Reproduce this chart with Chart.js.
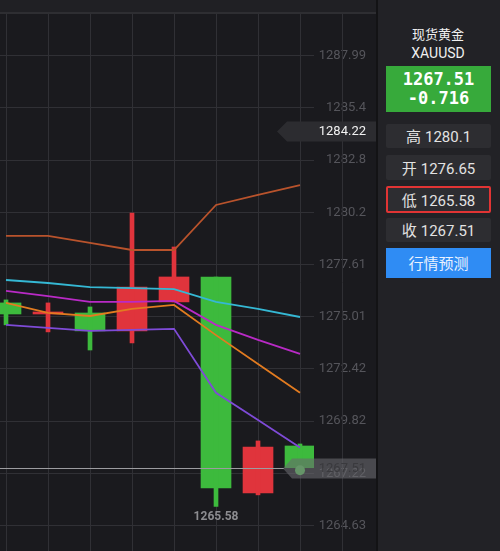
<!DOCTYPE html>
<html>
<head>
<meta charset="utf-8">
<script src="https://cdn.jsdelivr.net/npm/chart.js@4.4.1/dist/chart.umd.min.js"></script>
<style>
html, body { margin: 0; padding: 0; width: 500px; height: 551px; overflow: hidden; background: #1a1a1e; font-family: Roboto, "Noto Sans CJK SC", sans-serif; }
#top { position: absolute; left: 0; top: 0; width: 500px; height: 12px; background: #202024; border-bottom: 2px solid #2e2e32; }
#wrap { position: absolute; left: 0; top: 14px; width: 376px; height: 537px; }
#side { position: absolute; left: 376px; top: 0; width: 124px; height: 551px; background: #222226; border-left: 2px solid #131315; box-sizing: border-box; }
.t { position: absolute; left: 376px; width: 124px; text-align: center; color: #f0f0f0; }
.box { position: absolute; left: 386px; width: 105px; box-sizing: border-box; text-align: center; }
.price { background: #37aa3b; color: #fff; font: bold 17px "DejaVu Sans Mono", monospace; line-height: 19px; padding-top: 4px; }
.btn { background: #2d2d31; color: #e2e2e2; font-size: 15px; border-radius: 2px; }
.btn span { font-family: "Noto Sans CJK SC", sans-serif; margin-right: 4px; }
.low { border: 2px solid #e13434; }
.blue { background: #2f8cf4; color: #eaf2ff; font: 15px "Noto Sans CJK SC", sans-serif; }
</style>
</head>
<body>
<div id="top"></div>
<div id="side"></div>
<div class="t" style="top:25px;font:13px 'Noto Sans CJK SC',sans-serif;line-height:18px">现货黄金</div>
<div class="t" style="top:44px;font-size:14px;line-height:18px">XAUUSD</div>
<div class="box price" style="top:66px;height:46px">1267.51<br>-0.716</div>
<div class="box btn" style="top:124px;height:24px;line-height:24px"><span>高</span>1280.1</div>
<div class="box btn" style="top:155px;height:25px;line-height:25px"><span>开</span>1276.65</div>
<div class="box btn low" style="top:186px;height:27px;line-height:23px"><span>低</span>1265.58</div>
<div class="box btn" style="top:218px;height:24px;line-height:24px"><span>收</span>1267.51</div>
<div class="box blue" style="top:248px;height:30px;line-height:30px">行情预测</div>
<div id="wrap"><canvas id="chart"></canvas></div>
<script>
// candles, left to right
const candleIdx = [0, 1, 2, 3, 4, 5, 6, 7];
const opens  = [1275.70, 1275.15, 1275.20, 1274.31, 1275.75, 1276.99, 1266.26, 1268.59];
const closes = [1275.15, 1275.25, 1274.31, 1276.49, 1276.99, 1266.50, 1268.54, 1267.51];
const highs  = [1275.85, 1275.70, 1275.50, 1280.17, 1278.48, 1276.99, 1268.84, 1268.69];
const lows   = [1274.61, 1274.26, 1273.36, 1273.71, 1275.75, 1265.58, 1266.16, 1267.22];

// moving averages
const maBrown   = [1279.03, 1279.03, 1278.68, 1278.33, 1278.33, 1280.57, 1281.07, 1281.56];
const maCyan    = [1276.84, 1276.69, 1276.49, 1276.44, 1276.39, 1275.75, 1275.40, 1275.00];
const maMagenta = [1276.30, 1276.04, 1275.75, 1275.75, 1275.80, 1274.61, 1273.86, 1273.17];
const maOrange  = [1275.70, 1275.20, 1275.05, 1275.40, 1275.60, 1274.10, 1272.66, 1271.23];
const maPurple  = [1274.61, 1274.46, 1274.31, 1274.36, 1274.41, 1271.23, 1269.88, 1268.51];

const yTickValues = [1287.99, 1285.40, 1282.80, 1280.20, 1277.61, 1275.01, 1272.42, 1269.82, 1267.22, 1264.63];
const yTickLabels = ['1287.99', '1285.4', '1282.8', '1280.2', '1277.61', '1275.01', '1272.42', '1269.82', '1267.22', '1264.63'];
const xTickValues = [0, 1, 2, 3, 4, 5, 6, 7];

const lastPrice = 1267.51;
const markPrice = 1284.22;
const lowLabel = '1265.58';

const UP = '#e0343c', DOWN = '#3dba3d', GRID = '#303035';
const candleColors = candleIdx.map(i => closes[i] >= opens[i] ? UP : DOWN);

function ma(values, color) {
  return {
    type: 'line', order: 0, data: values.map((v, i) => ({ x: candleIdx[i], y: v })),
    borderColor: color, borderWidth: 1.8, pointRadius: 0, tension: 0, fill: false
  };
}

function noPad(s) {
  s.paddingTop = 0;
  s.paddingBottom = 0;
  s.paddingLeft = 0;
  s.paddingRight = 0;
}

function arrowBox(ctx, tipX, rectX, right, y, h, fill) {
  ctx.beginPath();
  ctx.moveTo(tipX, y);
  ctx.lineTo(rectX, y - h / 2);
  ctx.lineTo(right, y - h / 2);
  ctx.lineTo(right, y + h / 2);
  ctx.lineTo(rectX, y + h / 2);
  ctx.closePath();
  ctx.fillStyle = fill;
  ctx.fill();
}

const overlay = {
  id: 'overlay',
  beforeDatasetsDraw(chart) {
    const { ctx, scales: { x }, chartArea } = chart;
    // one more vertical grid line over the axis area
    const px = Math.round(x.getPixelForValue(8)) + 0.5;
    ctx.save();
    ctx.strokeStyle = GRID;
    ctx.lineWidth = 1;
    ctx.beginPath();
    ctx.moveTo(px, chartArea.top);
    ctx.lineTo(px, chartArea.bottom);
    ctx.stroke();
    ctx.restore();
  },
  afterDatasetsDraw(chart) {
    const { ctx, scales: { x, y } } = chart;
    const right = chart.width;
    ctx.save();
    // last price line + tag
    const ly = Math.round(y.getPixelForValue(lastPrice)) + 0.5;
    ctx.strokeStyle = '#9c9ca0';
    ctx.lineWidth = 1;
    ctx.beginPath();
    ctx.moveTo(0, ly);
    ctx.lineTo(284, ly);
    ctx.stroke();
    arrowBox(ctx, 283, 292, right, ly, 20, 'rgba(105,105,110,0.6)');
    ctx.font = '13px Roboto, sans-serif';
    ctx.textAlign = 'right';
    ctx.textBaseline = 'middle';
    ctx.fillStyle = '#3a3a3e';
    ctx.fillText(lastPrice.toFixed(2), 366, ly);
    // marked price tag
    const my = y.getPixelForValue(markPrice);
    arrowBox(ctx, 277, 287, right, my, 20, '#2c2c30');
    ctx.fillStyle = '#f2f2f2';
    ctx.fillText(markPrice.toFixed(2), 366, my);
    // low label under the big candle
    const li = lows.indexOf(Math.min(...lows));
    ctx.font = 'bold 12px Roboto, sans-serif';
    ctx.textAlign = 'center';
    ctx.textBaseline = 'top';
    ctx.fillStyle = '#8c8c90';
    ctx.fillText(lowLabel, x.getPixelForValue(candleIdx[li]), y.getPixelForValue(lows[li]) + 4);
    ctx.restore();
  }
};

new Chart(document.getElementById('chart'), {
  type: 'bar',
  data: {
    datasets: [
      ma(maBrown, '#b9532c'),
      ma(maCyan, '#35b8d4'),
      ma(maMagenta, '#b92ac6'),
      ma(maOrange, '#e27b20'),
      ma(maPurple, '#7f4bd8'),
      {
        type: 'line', order: 0, data: [{ x: candleIdx[7], y: 1267.38 }],
        showLine: false, pointRadius: 5, pointBackgroundColor: '#5fd65f', pointBorderWidth: 0
      },
      {
        order: 1, grouped: false, barThickness: 4,
        data: candleIdx.map(i => ({ x: i, y: [lows[i], highs[i]] })),
        backgroundColor: candleColors, borderWidth: 0
      },
      {
        order: 2, grouped: false, barThickness: 30, minBarLength: 2,
        data: candleIdx.map(i => ({ x: i, y: [opens[i], closes[i]] })),
        backgroundColor: candleColors, borderWidth: 0
      }
    ]
  },
  options: {
    responsive: true,
    maintainAspectRatio: false,
    animation: false,
    events: [],
    layout: { padding: { left: 0, top: 0, bottom: 0, right: 10 }, autoPadding: false },
    plugins: { legend: { display: false }, tooltip: { enabled: false } },
    scales: {
      x: {
        type: 'linear', offset: false, min: -0.143, max: 7.333,
        afterBuildTicks: s => { s.ticks = xTickValues.map(v => ({ value: v })); },
        afterFit: s => { s.height = 0; noPad(s); },
        ticks: { display: false },
        grid: { color: GRID, drawTicks: false, tickLength: 0, offset: false },
        border: { display: false }
      },
      y: {
        type: 'linear', position: 'right', min: 1263.37, max: 1290.06,
        afterBuildTicks: s => { s.ticks = yTickValues.map(v => ({ value: v })); },
        afterFit: s => { s.width = 52; noPad(s); },
        ticks: {
          crossAlign: 'far', padding: 0, color: '#55555b',
          font: { family: 'Roboto, sans-serif', size: 13 },
          callback: v => yTickLabels[yTickValues.indexOf(v)]
        },
        grid: { color: GRID, drawTicks: false, tickLength: 0 },
        border: { display: false }
      }
    }
  },
  plugins: [overlay]
});
</script>
</body>
</html>
